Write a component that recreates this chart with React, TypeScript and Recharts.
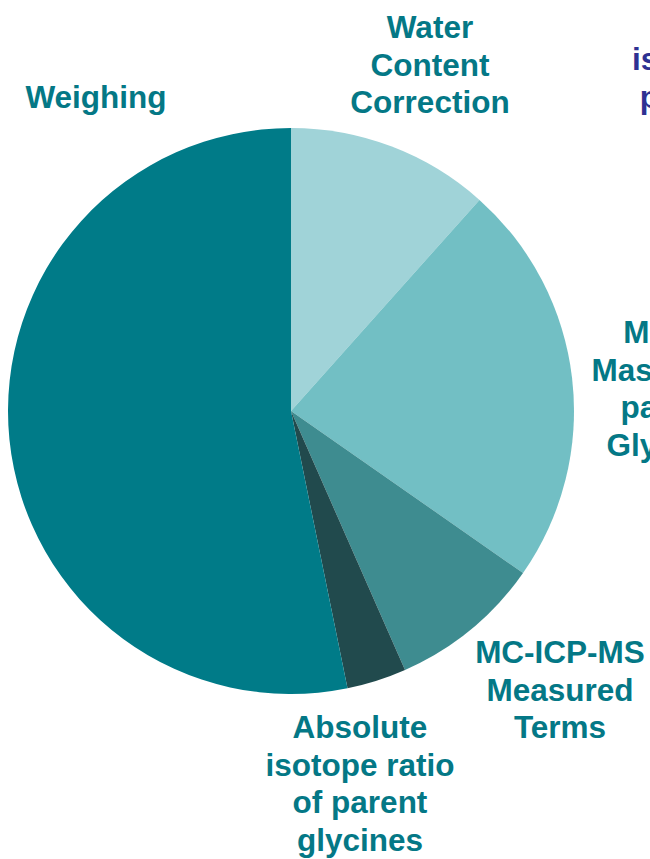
import { PieChart, Pie, Cell } from "recharts";

const categories = [
  "Water Content Correction",
  "MC-ICP-MS Mass bias of all parent from Glycine spike",
  "MC-ICP-MS Measured Terms",
  "Absolute isotope ratio of parent glycines",
  "Weighing",
];
const shares = [11.6, 23.1, 8.7, 3.4, 53.2];

const labelLines = [
  ["Water", "Content", "Correction"],
  ["MC-ICP-MS", "Mass bias of all", "parent from", "Glycine spike"],
  ["MC-ICP-MS", "Measured", "Terms"],
  ["Absolute", "isotope ratio", "of parent", "glycines"],
  ["Weighing"],
];

const COLORS = ["#a0d3d8", "#72bfc4", "#3e8c90", "#214a4d", "#007b88"];
const TEXT_COLOR = "#047886";
const FONT = "'Liberation Sans', Arial, sans-serif";
const FONT_SIZE = 31.5;
const LINE_HEIGHT = 37.6;

// hand placed label boxes (centre x, first baseline), as on the slide
const LABEL_POS = [
  { x: 430, y: 38 },
  { x: 708, y: 343 },
  { x: 560, y: 663 },
  { x: 360, y: 738 },
  { x: 96, y: 108 },
];

const data = categories.map((name, i) => ({ name, value: shares[i] }));

function renderLabel({ index }: { index: number }) {
  const pos = LABEL_POS[index];
  return (
    <text
      x={pos.x}
      y={pos.y}
      textAnchor="middle"
      fill={TEXT_COLOR}
      fontFamily={FONT}
      fontWeight="bold"
      fontSize={FONT_SIZE}
    >
      {labelLines[index].map((line, i) => (
        <tspan key={i} x={pos.x} dy={i === 0 ? 0 : LINE_HEIGHT}>
          {line}
        </tspan>
      ))}
    </text>
  );
}

export default function App() {
  return (
    <div style={{ position: "absolute", left: 0, top: 0, width: 650, height: 859, overflow: "hidden" }}>
      <PieChart width={650} height={859} margin={{ top: 0, right: 0, bottom: 0, left: 0 }}>
        <Pie
          data={data}
          dataKey="value"
          nameKey="name"
          cx={291}
          cy={411}
          outerRadius={283}
          startAngle={90}
          endAngle={-270}
          stroke="none"
          labelLine={false}
          label={renderLabel}
          isAnimationActive={false}
        >
          {data.map((d, i) => (
            <Cell key={d.name} fill={COLORS[i]} />
          ))}
        </Pie>
      </PieChart>
      <svg
        width={650}
        height={859}
        style={{ position: "absolute", left: 0, top: 0, pointerEvents: "none" }}
      >
        <text
          x={688}
          y={70}
          textAnchor="middle"
          fill="#2e3192"
          fontFamily={FONT}
          fontWeight="bold"
          fontSize={FONT_SIZE}
        >
          <tspan x={688} dy={0}>isotope</tspan>
          <tspan x={688} dy={LINE_HEIGHT}>parent</tspan>
        </text>
      </svg>
    </div>
  );
}
